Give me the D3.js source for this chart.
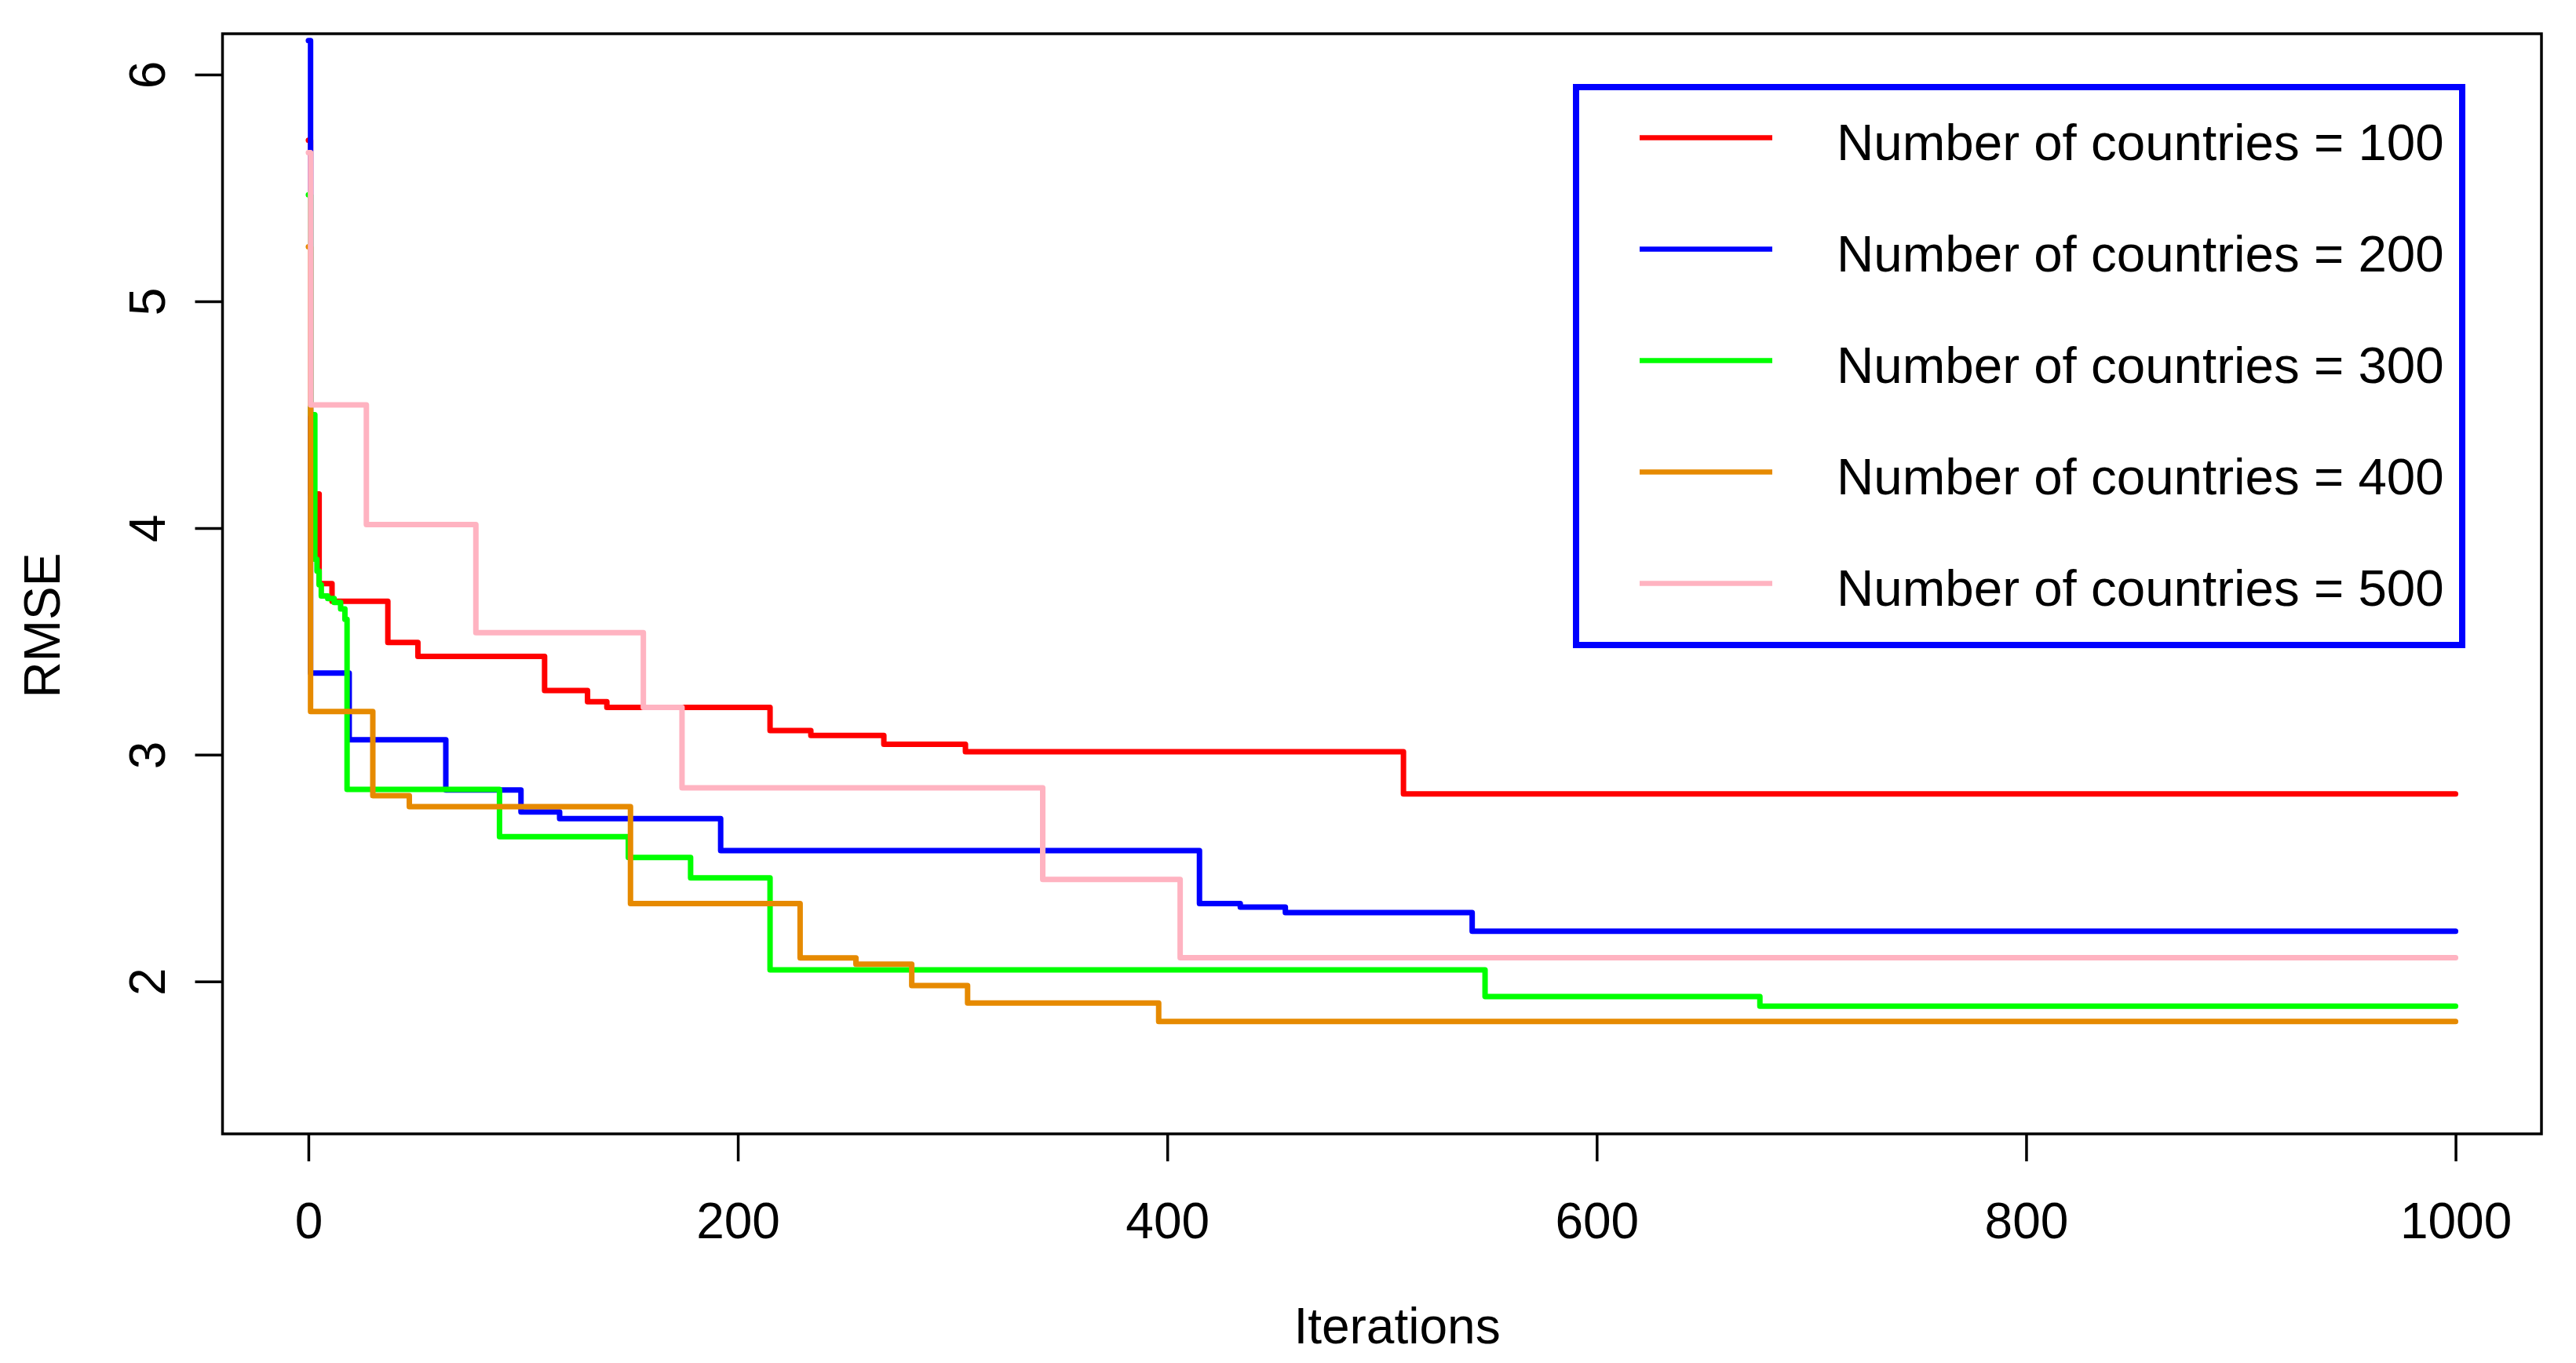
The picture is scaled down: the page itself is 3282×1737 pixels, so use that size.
<!DOCTYPE html>
<html>
<head>
<meta charset="utf-8">
<script src="https://cdn.jsdelivr.net/npm/d3@7"></script>
<style>
  html, body { margin: 0; padding: 0; background: #ffffff; }
  svg { display: block; }
  text { font-family: "Liberation Sans", Arial, Helvetica, sans-serif; fill: #000; }
</style>
</head>
<body>
<svg id="chart" width="3282" height="1737"></svg>
<script>
// ---------------- data ----------------
const iterTicks = [0, 200, 400, 600, 800, 1000];
const rmseTicks = [2, 3, 4, 5, 6];
const seriesLabels = [
  "Number of countries = 100",
  "Number of countries = 200",
  "Number of countries = 300",
  "Number of countries = 400",
  "Number of countries = 500"
];
// change points: [iteration, RMSE] (value holds until next point)
const countries100 = [[0,5.71],[1,4.15],[5,3.755],[11,3.677],[37,3.495],[51,3.434],[110,3.283],[130,3.234],[139,3.209],[215,3.107],[234,3.085],[268,3.046],[306,3.013],[510,2.827],[1000,2.827]];
const countries200 = [[0,6.15],[1,3.36],[19,3.066],[64,2.845],[99,2.748],[117,2.718],[192,2.577],[415,2.344],[434,2.328],[455,2.304],[542,2.222],[1000,2.222]];
const countries300 = [[0,5.47],[1,4.50],[3,3.862],[4,3.81],[5,3.75],[6,3.70],[9,3.689],[12,3.672],[15,3.643],[17,3.597],[18,2.847],[89,2.639],[149,2.547],[178,2.457],[215,2.051],[548,1.934],[676,1.891],[1000,1.891]];
const countries400 = [[0,5.24],[1,3.191],[30,2.82],[47,2.771],[150,2.344],[229,2.104],[255,2.076],[281,1.982],[307,1.905],[396,1.824],[1000,1.824]];
const countries500 = [[0,5.656],[1,4.543],[27,4.015],[78,3.539],[156,3.209],[174,2.854],[342,2.45],[406,2.105],[1000,2.105]];
const seriesData = [countries100, countries200, countries300, countries400, countries500];
const seriesColors = ["#FF0000", "#0000FF", "#00FF00", "#E68A00", "#FFB3C1"];

// ---------------- layout ----------------
const plot = { left: 283.5, right: 3238, top: 43, bottom: 1445 };
const fontSize = 64;
const legendFontSize = 65.5;

const svg = d3.select("#chart");
svg.append("rect").attr("width", 3282).attr("height", 1737).attr("fill", "#fff");

const x = d3.scaleLinear().domain([-40, 1040]).range([plot.left, plot.right]);
const y = d3.scaleLinear().domain([1.328, 6.18]).range([plot.bottom, plot.top]);

// clip
svg.append("defs").append("clipPath").attr("id", "plotclip")
  .append("rect")
  .attr("x", plot.left).attr("y", plot.top)
  .attr("width", plot.right - plot.left).attr("height", plot.bottom - plot.top);

// series
const line = d3.line()
  .x(d => x(d[0]))
  .y(d => y(d[1]))
  .curve(d3.curveStepAfter);

const gLines = svg.append("g").attr("clip-path", "url(#plotclip)");
seriesData.forEach((s, i) => {
  gLines.append("path")
    .datum(s)
    .attr("d", line)
    .attr("fill", "none")
    .attr("stroke", seriesColors[i])
    .attr("stroke-width", 7)
    .attr("stroke-linejoin", "round")
    .attr("stroke-linecap", "round");
});

// box
svg.append("rect")
  .attr("x", plot.left).attr("y", plot.top)
  .attr("width", plot.right - plot.left).attr("height", plot.bottom - plot.top)
  .attr("fill", "none").attr("stroke", "#000").attr("stroke-width", 3.5);

// x axis
const xAxis = d3.axisBottom(x).tickValues(iterTicks).tickSize(35).tickPadding(0).tickFormat(d3.format("d"));
const gx = svg.append("g").attr("transform", `translate(0,${plot.bottom})`).call(xAxis);
gx.select(".domain").remove();
gx.selectAll(".tick line").attr("stroke", "#000").attr("stroke-width", 3.5);
gx.selectAll(".tick text")
  .attr("y", 133).attr("dy", null)
  .style("font-size", fontSize + "px")
  .style("font-family", '"Liberation Sans", Arial, Helvetica, sans-serif')
  .attr("fill", "#000");

// y axis
const yAxis = d3.axisLeft(y).tickValues(rmseTicks).tickSize(35).tickPadding(0).tickFormat(d3.format("d"));
const gy = svg.append("g").attr("transform", `translate(${plot.left},0)`).call(yAxis);
gy.select(".domain").remove();
gy.selectAll(".tick line").attr("stroke", "#000").attr("stroke-width", 3.5);
gy.selectAll(".tick text")
  .attr("x", null).attr("dy", null)
  .attr("text-anchor", "middle")
  .attr("transform", "translate(-74,0) rotate(-90)")
  .style("font-size", fontSize + "px")
  .style("font-family", '"Liberation Sans", Arial, Helvetica, sans-serif')
  .attr("fill", "#000");

// axis titles
svg.append("text")
  .attr("x", 1780).attr("y", 1712)
  .attr("text-anchor", "middle")
  .style("font-size", fontSize + "px")
  .text("Iterations");

svg.append("text")
  .attr("transform", "translate(76,797) rotate(-90)")
  .attr("text-anchor", "middle")
  .style("font-size", fontSize + "px")
  .text("RMSE");

// legend
const lg = { x: 2008, y: 111, w: 1129, h: 711 };
svg.append("rect")
  .attr("x", lg.x).attr("y", lg.y).attr("width", lg.w).attr("height", lg.h)
  .attr("fill", "#fff").attr("stroke", "#0000FF").attr("stroke-width", 8);

seriesLabels.forEach((lab, i) => {
  const ry = lg.y + 64.5 + i * 142;
  svg.append("line")
    .attr("x1", 2089).attr("x2", 2258)
    .attr("y1", ry).attr("y2", ry)
    .attr("stroke", seriesColors[i]).attr("stroke-width", 6.5);
  svg.append("text")
    .attr("x", 2340).attr("y", ry + 28)
    .style("font-size", legendFontSize + "px")
    .text(lab);
});
</script>
</body>
</html>
